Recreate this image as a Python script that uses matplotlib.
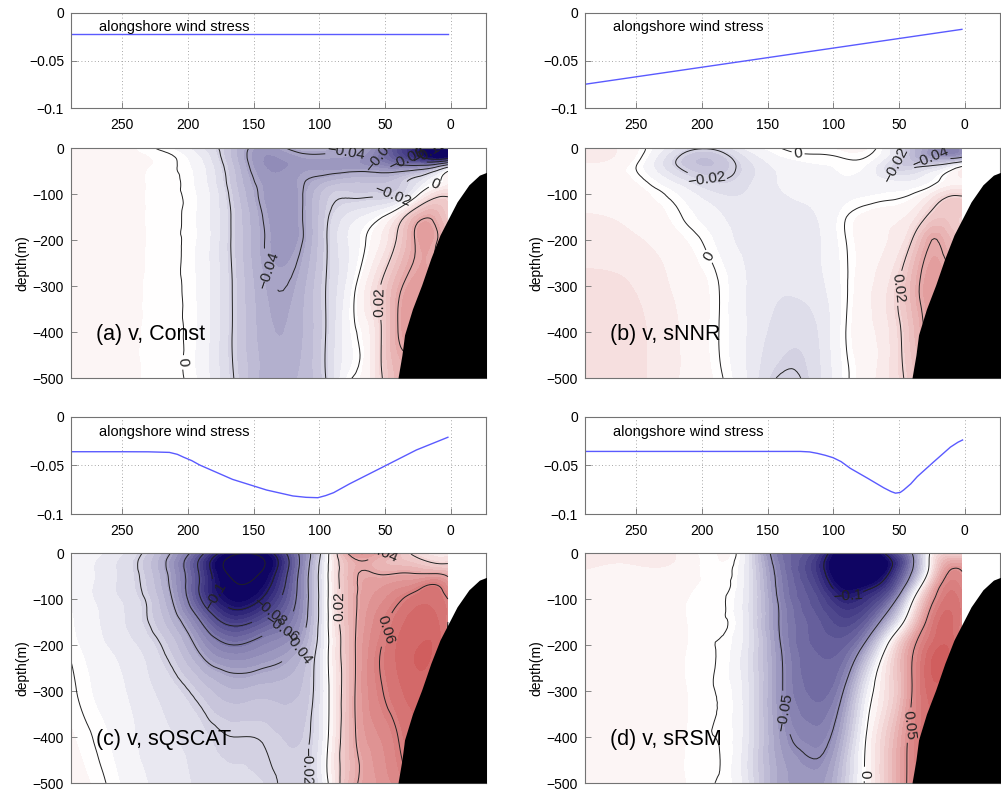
import numpy as np
import matplotlib
matplotlib.use("Agg")
import matplotlib.pyplot as plt
import matplotlib.tri as mtri
from matplotlib.colors import LinearSegmentedColormap, Normalize

plt.rcParams['font.family'] = ['Liberation Sans', 'DejaVu Sans']

# ---------------- data ----------------
# alongshore wind stress (x = km offshore)
wind_x_a = [289, 2]
wind_a = [-0.022, -0.022]
wind_x_b = [289, 2]
wind_b = [-0.075, -0.0172]
wind_x_c = [289, 250, 230, 214, 208, 203, 197, 191, 166, 140, 120, 110, 101, 95, 89, 83, 77, 51, 26, 2]
wind_c = [-0.0358, -0.0358, -0.0359, -0.0365, -0.0385, -0.0416, -0.045, -0.0495, -0.0643,
          -0.0753, -0.0814, -0.0828, -0.0832, -0.081, -0.078, -0.0735, -0.069, -0.0512, -0.034, -0.0209]
wind_x_d = [289, 125, 118, 112, 106, 100, 94, 87, 74, 61.5, 56, 52.6, 49, 46.4, 41, 36, 23.6, 10.7, 5, 1.5]
wind_d = [-0.0355, -0.0355, -0.036, -0.0375, -0.0395, -0.042, -0.046, -0.0529, -0.063, -0.073,
          -0.0768, -0.0785, -0.0778, -0.0753, -0.069, -0.0615, -0.0464, -0.031, -0.026, -0.0237]

# section grid
sec_x = [289, 250, 215, 190, 165, 140, 115, 95, 75, 55, 40, 25, 10, 2]
sec_z = [0, -20, -40, -70, -100, -150, -200, -300, -400, -500]

v_const = [
    [0.006, 0.004, -0.002, -0.012, -0.030, -0.045, -0.036, -0.036, -0.038, -0.055, -0.080, -0.100, -0.125, -0.130],
    [0.005, 0.004, 0.001, -0.008, -0.030, -0.048, -0.043, -0.042, -0.044, -0.058, -0.075, -0.095, -0.115, -0.110],
    [0.004, 0.004, 0.001, -0.006, -0.028, -0.048, -0.045, -0.044, -0.045, -0.050, -0.055, -0.055, -0.042, -0.025],
    [0.004, 0.004, 0.001, -0.005, -0.026, -0.045, -0.042, -0.035, -0.030, -0.030, -0.026, -0.015, -0.002, 0.006],
    [0.004, 0.004, 0.001, -0.004, -0.024, -0.044, -0.042, -0.025, -0.022, -0.022, -0.020, -0.002, 0.016, 0.018],
    [0.004, 0.004, 0.001, -0.004, -0.022, -0.042, -0.042, -0.022, -0.010, -0.002, 0.012, 0.035, 0.035, 0.025],
    [0.004, 0.004, 0.001, -0.004, -0.022, -0.041, -0.042, -0.021, -0.006, 0.006, 0.022, 0.042, 0.040, 0.030],
    [0.005, 0.004, 0.001, -0.004, -0.021, -0.038, -0.036, -0.020, -0.003, 0.018, 0.037, 0.045, 0.042, 0.030],
    [0.005, 0.004, 0.001, -0.004, -0.021, -0.036, -0.034, -0.020, -0.002, 0.016, 0.040, 0.045, 0.042, 0.030],
    [0.005, 0.004, 0.001, -0.004, -0.020, -0.035, -0.032, -0.020, 0.000, 0.015, 0.034, 0.040, 0.040, 0.030],
]

v_snnr = [
    [0.012, 0.003, -0.015, -0.018, -0.006, 0.000, 0.002, 0.003, 0.003, -0.010, -0.030, -0.045, -0.055, -0.050],
    [0.010, 0.002, -0.022, -0.026, -0.012, -0.003, -0.001, 0.000, 0.000, -0.012, -0.030, -0.042, -0.045, -0.040],
    [0.006, 0.000, -0.022, -0.027, -0.015, -0.006, -0.003, -0.002, -0.003, -0.018, -0.022, -0.018, -0.008, 0.000],
    [0.006, 0.002, -0.012, -0.020, -0.014, -0.007, -0.004, -0.003, -0.004, -0.008, -0.008, -0.003, 0.004, 0.006],
    [0.006, 0.004, -0.004, -0.012, -0.012, -0.008, -0.006, -0.004, -0.003, -0.002, 0.000, 0.008, 0.018, 0.018],
    [0.008, 0.006, 0.000, -0.006, -0.010, -0.009, -0.008, -0.002, 0.004, 0.006, 0.010, 0.024, 0.025, 0.022],
    [0.010, 0.008, 0.003, -0.003, -0.010, -0.010, -0.009, -0.002, 0.005, 0.008, 0.020, 0.040, 0.032, 0.025],
    [0.014, 0.012, 0.006, 0.001, -0.008, -0.012, -0.010, -0.003, 0.006, 0.015, 0.034, 0.045, 0.038, 0.025],
    [0.016, 0.014, 0.007, 0.001, -0.008, -0.015, -0.014, -0.003, 0.006, 0.014, 0.030, 0.043, 0.036, 0.030],
    [0.016, 0.014, 0.007, 0.002, -0.008, -0.021, -0.016, -0.004, 0.005, 0.014, 0.025, 0.032, 0.030, 0.030],
]

v_sqscat = [
    [-0.002, -0.012, -0.038, -0.075, -0.115, -0.108, -0.058, -0.008, 0.045, 0.043, 0.030, 0.015, 0.010, 0.010],
    [-0.003, -0.014, -0.042, -0.085, -0.130, -0.118, -0.060, -0.006, 0.036, 0.035, 0.030, 0.025, 0.018, 0.018],
    [-0.003, -0.014, -0.041, -0.084, -0.127, -0.114, -0.058, -0.005, 0.036, 0.038, 0.038, 0.037, 0.035, 0.032],
    [-0.003, -0.014, -0.039, -0.083, -0.118, -0.105, -0.056, -0.005, 0.036, 0.046, 0.050, 0.055, 0.060, 0.050],
    [-0.003, -0.013, -0.036, -0.080, -0.110, -0.095, -0.055, -0.005, 0.036, 0.050, 0.058, 0.065, 0.065, 0.060],
    [-0.002, -0.012, -0.030, -0.060, -0.085, -0.072, -0.050, -0.005, 0.036, 0.055, 0.065, 0.070, 0.068, 0.060],
    [-0.001, -0.010, -0.023, -0.045, -0.060, -0.052, -0.040, -0.005, 0.036, 0.058, 0.068, 0.072, 0.070, 0.060],
    [0.001, -0.007, -0.015, -0.024, -0.032, -0.030, -0.028, -0.005, 0.036, 0.058, 0.066, 0.070, 0.065, 0.060],
    [0.003, -0.005, -0.012, -0.016, -0.020, -0.021, -0.023, -0.004, 0.036, 0.052, 0.060, 0.065, 0.060, 0.060],
    [0.005, -0.003, -0.010, -0.014, -0.017, -0.018, -0.022, -0.004, 0.036, 0.048, 0.055, 0.060, 0.060, 0.060],
]

v_srsm = [
    [0.010, 0.008, 0.006, 0.002, -0.012, -0.062, -0.080, -0.120, -0.135, -0.085, -0.050, 0.005, 0.020, 0.020],
    [0.009, 0.008, 0.006, 0.002, -0.012, -0.060, -0.085, -0.128, -0.145, -0.100, -0.055, 0.008, 0.040, 0.040],
    [0.007, 0.006, 0.005, 0.002, -0.012, -0.058, -0.085, -0.125, -0.138, -0.095, -0.050, 0.012, 0.052, 0.050],
    [0.005, 0.005, 0.004, 0.002, -0.012, -0.056, -0.080, -0.110, -0.110, -0.080, -0.030, 0.030, 0.060, 0.055],
    [0.005, 0.004, 0.003, 0.001, -0.012, -0.054, -0.075, -0.095, -0.090, -0.060, -0.005, 0.045, 0.065, 0.060],
    [0.004, 0.004, 0.003, 0.001, -0.012, -0.052, -0.070, -0.080, -0.070, -0.025, 0.020, 0.060, 0.068, 0.060],
    [0.004, 0.004, 0.003, 0.000, -0.012, -0.050, -0.068, -0.070, -0.045, 0.010, 0.045, 0.068, 0.070, 0.060],
    [0.004, 0.004, 0.003, 0.000, -0.012, -0.048, -0.064, -0.055, -0.010, 0.020, 0.050, 0.070, 0.065, 0.060],
    [0.004, 0.004, 0.003, 0.000, -0.012, -0.044, -0.055, -0.040, 0.000, 0.030, 0.055, 0.065, 0.060, 0.060],
    [0.004, 0.004, 0.003, 0.000, -0.012, -0.040, -0.045, -0.030, 0.002, 0.032, 0.055, 0.060, 0.060, 0.060],
]

# shelf / slope topography outline
bathy_x = [40, 37, 35, 29, 22, 15, 8, -5, -14, -22, -30]
bathy_z = [-500, -450, -406, -350, -298, -240, -189, -117, -80, -59, -50]

panel_titles = ["(a) v, Const", "(b) v, sNNR", "(c) v, sQSCAT", "(d) v, sRSM"]
wind_xs = [wind_x_a, wind_x_b, wind_x_c, wind_x_d]
wind_vals = [wind_a, wind_b, wind_c, wind_d]
fields = [v_const, v_snnr, v_sqscat, v_srsm]
line_steps = [0.02, 0.02, 0.02, 0.05]
label_positions = [
    [(80, -10), (54, -15), (32, -12), (18, -8), (44, -102), (12, -78), (135, -262), (52, -335), (207, -465)],
    [(127, -18), (196, -65), (54, -37), (26, -20), (207, -260), (49, -305)],
    [(181, -98), (140, -117), (130, -157), (117, -204), (87, -117), (41, -174), (45, -14), (107, -465)],
    [(89, -102), (125, -341), (40, -375), (82, -480)],
]

# ---------------- style ----------------
cmap = LinearSegmentedColormap.from_list(
    "bwr_m", [(0.0, (0.06, 0.02, 0.39)), (0.5, (1, 1, 1)), (1.0, (0.73, 0.08, 0.08))])
norm = Normalize(vmin=-0.11, vmax=0.11)
fill_levels = np.arange(-0.1775, 0.178, 0.005)

XLIM = (289, -27)

fig = plt.figure(figsize=(10.01, 7.92), dpi=100)
lefts = [0.0709, 0.5844]
W = 0.4146
wind_rows = [(0.8636, 0.1200), (0.3510, 0.1225)]
cont_rows = [(0.5227, 0.2904), (0.01136, 0.2904)]


def fmt_label(v):
    if abs(v) < 1e-9:
        return "0"
    s = f"{v:g}"
    return s.replace("-", "\u2212")


def style_axes(ax):
    for sp in ax.spines.values():
        sp.set_color("0.45")
        sp.set_linewidth(0.8)
    ax.tick_params(direction="in", length=4, width=0.6, color="0.45",
                   labelsize=10, labelcolor="black")


for k in range(4):
    r, c = divmod(k, 2)
    # ---- wind panel ----
    y0, h = wind_rows[r]
    axw = fig.add_axes([lefts[c], y0, W, h])
    axw.plot(wind_xs[k], wind_vals[k], color="#5a5aff", lw=1.0)
    axw.set_xlim(*XLIM)
    axw.set_ylim(-0.1, 0)
    axw.set_xticks([250, 200, 150, 100, 50, 0])
    axw.set_yticks([-0.1, -0.05, 0])
    axw.set_yticklabels(["\u22120.1", "\u22120.05", "0"])
    axw.grid(True, color="0.55", linestyle=(0, (1, 3)), linewidth=0.6)
    style_axes(axw)
    axw.tick_params(axis="x", pad=7)
    axw.tick_params(axis="y", pad=5)
    axw.text(268, -0.015, "alongshore wind stress", fontsize=10.5, va="center", ha="left")

    # ---- section panel ----
    y0, h = cont_rows[r]
    ax = fig.add_axes([lefts[c], y0, W, h])
    X, Z = np.meshgrid(np.array(sec_x, float), np.array(sec_z, float))
    ny, nx = X.shape
    tris = []
    for j in range(ny - 1):
        for i in range(nx - 1):
            p = j * nx + i
            tris.append([p, p + 1, p + nx])
            tris.append([p + 1, p + nx + 1, p + nx])
    tri = mtri.Triangulation(X.ravel() / 300.0, Z.ravel() / 500.0, np.array(tris))
    refiner = mtri.UniformTriRefiner(tri)
    tri_r, v_r = refiner.refine_field(np.asarray(fields[k], float).ravel(), subdiv=3)
    tri_f = mtri.Triangulation(tri_r.x * 300.0, tri_r.y * 500.0, tri_r.triangles)

    ax.tricontourf(tri_f, v_r, levels=fill_levels, cmap=cmap, norm=norm, extend="both")
    step = line_steps[k]
    lines = np.round(np.arange(-0.2, 0.2 + step / 2, step), 4)
    cs = ax.tricontour(tri_f, v_r, levels=lines, colors="#222222", linewidths=0.7,
                       linestyles="solid")
    ax.clabel(cs, fontsize=11, fmt=fmt_label, inline=True, inline_spacing=3,
              manual=label_positions[k])
    ax.fill_betweenx(bathy_z, bathy_x, -40, color="black", zorder=5, lw=0)
    ax.set_xlim(*XLIM)
    ax.set_ylim(-500, 0)
    ax.set_xticks([])
    ax.set_yticks([0, -100, -200, -300, -400, -500])
    ax.set_ylabel("depth(m)", fontsize=10, labelpad=2)
    style_axes(ax)
    ax.tick_params(axis="y", pad=5)
    ax.text(270, -405, panel_titles[k], fontsize=15.5, va="center", ha="left", zorder=6)

fig.savefig("out.png", dpi=100)
